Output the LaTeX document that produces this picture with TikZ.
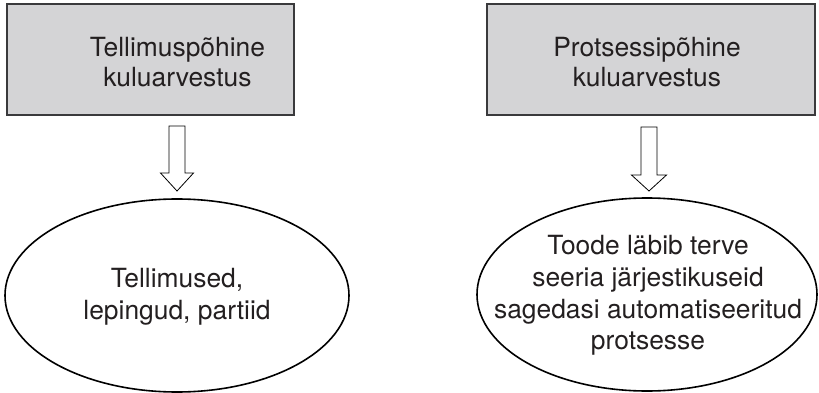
\documentclass[tikz,border=0pt]{standalone}
\usepackage{fontspec}
\setmainfont{TeX Gyre Heros}
\usetikzlibrary{shapes.geometric}
\definecolor{boxfill}{RGB}{212,212,214}
\definecolor{boxline}{RGB}{58,58,60}
\definecolor{ink}{RGB}{35,31,32}
\tikzset{
  headbox/.style={draw=boxline, line width=1.6pt, fill=boxfill, inner sep=0pt},
  oval/.style={ellipse, draw=black, line width=1.6pt, inner sep=0pt},
  label/.style={text=ink, align=center, inner sep=0pt},
  headtext/.style={label, font=\fontsize{26.4}{30}\selectfont},
  ovaltext/.style={label, font=\fontsize{26.4}{31.8}\selectfont},
  hollowarrow/.style={draw=black, line width=0.8pt, fill=white, line join=miter}
}
\begin{document}
\begin{tikzpicture}[x=1pt,y=-1pt]
  \useasboundingbox (0,0) rectangle (819,393);

  % header boxes
  \node[headbox, minimum width=287pt, minimum height=111pt] (b1) at (150.5,59.5) {};
  \node[headtext] (t1) at (177.5,62) {Tellimuspõhine\\kuluarvestus};
  \node[headbox, minimum width=328pt, minimum height=111pt] (b2) at (651,59.5) {};
  \node[headtext] (t2) at (647,62) {Protsessipõhine\\kuluarvestus};

  % ellipses
  \node[oval, minimum width=344pt, minimum height=193pt] (e1) at (177,295.5) {};
  \node[ovaltext] (u1) at (177,297) {Tellimused,\\lepingud, partiid};
  \node[oval, minimum width=340pt, minimum height=193pt] (e2) at (647,294.5) {};
  \node[ovaltext] (u2) at (648,295.5) {Toode läbib terve\\seeria järjestikuseid\\sagedasi automatiseeritud\\protsesse};

  % hollow down arrows
  \coordinate (a1) at (177,126);
  \coordinate (a2) at (649,127);
  \draw[hollowarrow] (a1) ++(-8,0) -- ++(16,0) -- ++(0,47) -- ++(8.5,0)
     -- ++(-16.5,18) -- ++(-16.5,-18) -- ++(8.5,0) -- cycle;
  \draw[hollowarrow] (a2) ++(-8,0) -- ++(16,0) -- ++(0,48) -- ++(9.5,0)
     -- ++(-17.5,16) -- ++(-17.5,-16) -- ++(9.5,0) -- cycle;
\end{tikzpicture}
\end{document}
